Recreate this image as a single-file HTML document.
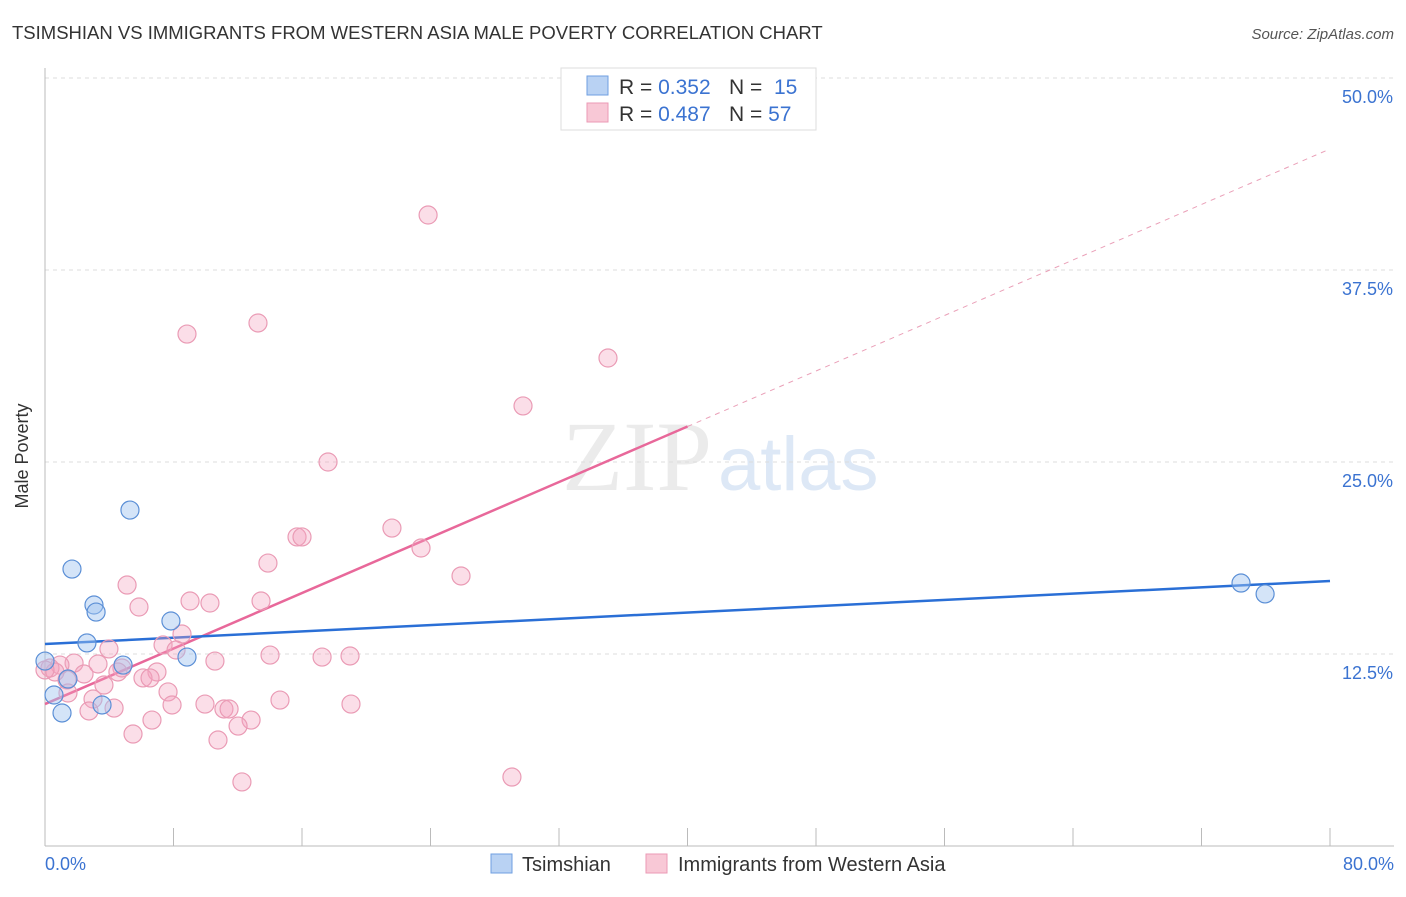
<!DOCTYPE html>
<html><head><meta charset="utf-8"><style>
body{margin:0;background:#fff;font-family:"Liberation Sans",sans-serif;}
</style></head><body>
<svg id="chart" width="1406" height="892" viewBox="0 0 1406 892" xmlns="http://www.w3.org/2000/svg">
<text x="12" y="39" font-size="18.5" fill="#333">TSIMSHIAN VS IMMIGRANTS FROM WESTERN ASIA MALE POVERTY CORRELATION CHART</text>
<text x="1394" y="39" font-size="15" fill="#555" font-style="italic" text-anchor="end">Source: ZipAtlas.com</text>
<g><text x="712" y="490" font-size="100" fill="#ebebeb" text-anchor="end" font-family="Liberation Serif,serif">ZIP</text><text x="718" y="490" font-size="76" fill="#dde8f6">atlas</text></g>
<g id="grid"></g>
<g id="axes"></g>
<g id="lines"></g>
<g id="points"></g>
<text x="28" y="456" font-size="18" fill="#333" text-anchor="middle" transform="rotate(-90 28 456)">Male Poverty</text>
<text x="45" y="870" font-size="18" fill="#3b73d1">0.0%</text>
<text x="1394" y="870" font-size="18" fill="#3b73d1" text-anchor="end">80.0%</text>
<g>
<rect x="561" y="68" width="255" height="62" fill="#fff" stroke="#ddd"/>
<rect x="587" y="76" width="21" height="19" fill="#b9d2f3" stroke="#6f9fe0"/>
<rect x="587" y="103" width="21" height="19" fill="#f8c8d6" stroke="#eb9ab5"/>
<text x="619" y="94" font-size="21" fill="#333">R = <tspan fill="#3b73d1">0.352</tspan><tspan x="729">N = </tspan><tspan fill="#3b73d1">&#160;15</tspan></text>
<text x="619" y="121" font-size="21" fill="#333">R = <tspan fill="#3b73d1">0.487</tspan><tspan x="729">N = </tspan><tspan fill="#3b73d1">57</tspan></text>
</g>
<g>
<rect x="491" y="854" width="21" height="19" fill="#b9d2f3" stroke="#6f9fe0"/>
<text x="522" y="871" font-size="20" fill="#333">Tsimshian</text>
<rect x="646" y="854" width="21" height="19" fill="#f8c8d6" stroke="#eb9ab5"/>
<text x="678" y="871" font-size="20" fill="#333">Immigrants from Western Asia</text>
</g>
</svg>
<script>
const yTicks=[12.5,25,37.5,50];
const yTickLabels=["12.5%","25.0%","37.5%","50.0%"];
const xTicks=[0,8,16,24,32,40,48,56,64,72,80];
const pinkX=[23.85,8.84,13.26,35.05,29.76,17.62,21.60,15.69,16.0,23.41,13.88,25.90,5.11,5.85,9.03,10.27,13.45,8.53,7.35,3.98,8.16,14.01,17.25,18.99,10.58,1.81,3.30,0.93,0.31,4.79,6.97,2.43,4.54,6.10,6.54,1.37,3.67,7.66,1.43,2.99,14.63,7.91,9.96,19.05,2.74,4.30,11.14,11.46,6.66,12.83,12.02,5.48,10.77,29.07,12.26,0.62,0.0];
const pinkY=[41.08,33.33,34.05,31.77,28.65,25.0,20.70,20.12,20.12,19.40,18.42,17.58,16.99,15.56,15.95,15.82,15.95,13.80,13.09,12.83,12.76,12.43,12.30,12.37,12.04,11.91,11.85,11.78,11.59,11.59,11.33,11.20,11.33,10.94,10.94,10.81,10.48,10.03,9.96,9.57,9.50,9.18,9.24,9.24,8.79,8.98,8.92,8.92,8.20,8.20,7.81,7.29,6.90,4.49,4.17,11.33,11.46];
const blueX=[5.29,1.68,3.05,3.18,2.61,7.84,8.84,4.86,0.0,1.43,0.56,1.06,3.55,74.46,75.96];
const blueY=[21.87,18.03,15.69,15.23,13.22,14.65,12.30,11.78,12.04,10.87,9.83,8.66,9.18,17.12,16.41];
const blueTrend=[13.15,17.25];
const pinkTrend=[9.24,45.38];
const pinkSolidEnd=40;
const X0=45,X1=1330,Y0=846,Y50=78;
const sx=v=>X0+(v/80)*(X1-X0);
const sy=v=>Y0-(v/50)*(Y0-Y50);
const NS="http://www.w3.org/2000/svg";
function mk(tag,attrs,parent){const e=document.createElementNS(NS,tag);for(const k in attrs)e.setAttribute(k,attrs[k]);document.getElementById(parent).appendChild(e);return e;}
yTicks.forEach((t,i)=>{
 const g=mk('line',{x1:X0,x2:1394,y1:sy(t),y2:sy(t),stroke:'#dcdcdc','stroke-dasharray':'4,4'},'grid');
 
 
 const l=mk('text',{x:1393,y:sy(t)+25,'font-size':18,fill:'#3b73d1','text-anchor':'end'},'grid');
 l.textContent=yTickLabels[i];
 
 
});
const ya=mk('line',{x1:X0,x2:X0,y1:68,y2:Y0,stroke:'#bbb'},'axes');


const xa=mk('line',{x1:X0,x2:1394,y1:Y0,y2:Y0,stroke:'#bbb'},'axes');


xTicks.forEach(t=>{
 const tk=mk('line',{x1:sx(t),x2:sx(t),y1:Y0-18,y2:Y0,stroke:'#bbb'},'axes');
 
 
});
pinkX.forEach((x,i)=>{
 const c=mk('circle',{cx:sx(x),cy:sy(pinkY[i]),r:9,fill:'rgba(244,160,188,0.35)',stroke:'#ea9bb5','stroke-width':1.2},'points');
 
 
});
blueX.forEach((x,i)=>{
 const c=mk('circle',{cx:sx(x),cy:sy(blueY[i]),r:9,fill:'rgba(160,195,240,0.45)',stroke:'#5b8fd6','stroke-width':1.2},'points');
 
 
});
const pAt=x=>pinkTrend[0]+(pinkTrend[1]-pinkTrend[0])*x/80;
const pd=mk('line',{x1:sx(pinkSolidEnd),y1:sy(pAt(pinkSolidEnd)),x2:sx(80),y2:sy(pinkTrend[1]),stroke:'#eaa0b8','stroke-width':1,'stroke-dasharray':'5,5'},'lines');


const ps=mk('line',{x1:sx(0),y1:sy(pinkTrend[0]),x2:sx(pinkSolidEnd),y2:sy(pAt(pinkSolidEnd)),stroke:'#e8689a','stroke-width':2.5},'lines');


const bl=mk('line',{x1:sx(0),y1:sy(blueTrend[0]),x2:sx(80),y2:sy(blueTrend[1]),stroke:'#2a6fd6','stroke-width':2.5},'lines');


</script>
</body></html>
